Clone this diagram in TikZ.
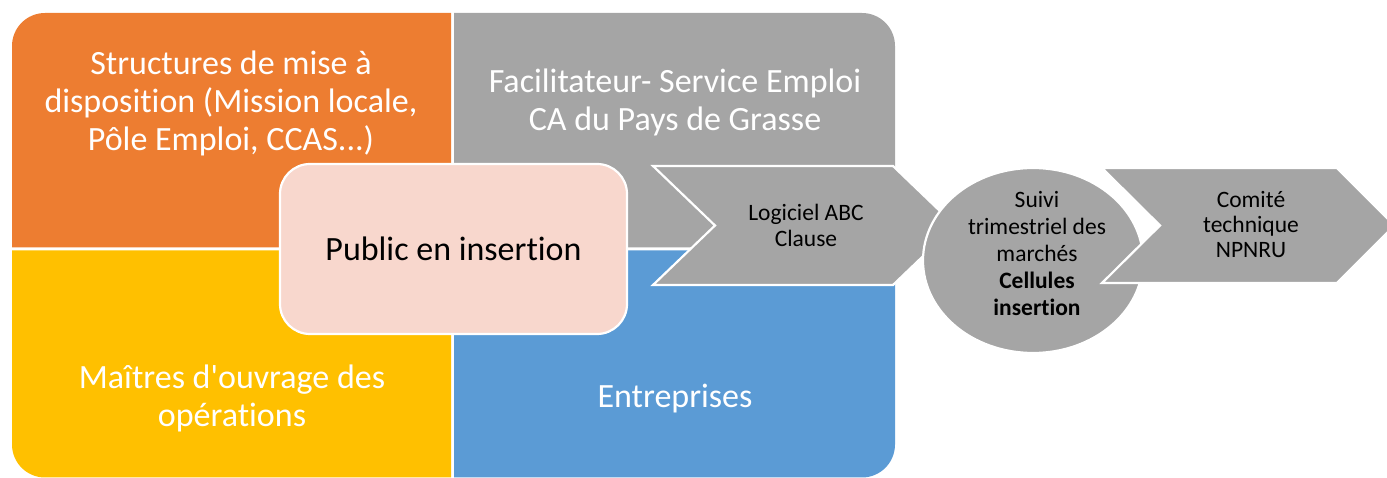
\documentclass[tikz,border=0pt]{standalone}
\usepackage{fontspec}
\setmainfont{Carlito}[Ligatures={TeXOff,CommonOff}]
\definecolor{tileorange}{HTML}{ED7D31}
\definecolor{tilegray}{HTML}{A5A5A5}
\definecolor{tileyellow}{HTML}{FFC000}
\definecolor{tileblue}{HTML}{5B9BD5}
\definecolor{corepink}{HTML}{F8D7CD}
\begin{document}
\begin{tikzpicture}[x=1pt,y=1pt,
  bigtext/.style={font=\fontsize{34}{38}\selectfont, text=white, align=center, inner sep=0pt},
  smalltext/.style={font=\fontsize{23.5}{26}\selectfont, text=black, align=center, inner sep=0pt},
  outlined/.style={fill=tilegray, draw=white, line width=2.2pt, line join=miter},
  corebox/.style={fill=corepink, draw=white, line width=2.2pt, rounded corners=30pt,
    minimum width=347pt, minimum height=170pt, inner sep=0pt,
    font=\fontsize{34}{38}\selectfont, text=black}
]
\useasboundingbox (0,0) rectangle (1387,478);
\clip (0,0) rectangle (1387,478);

% four tiles, each with one rounded outer corner
\fill[tileorange] (451,230.5) -- (12,230.5) -- (12,432)
  arc[start angle=180, end angle=90, radius=33pt] -- (451,465) -- cycle;
\fill[tilegray] (454,230.5) -- (454,465) -- (862,465)
  arc[start angle=90, end angle=0, radius=33pt] -- (895,230.5) -- cycle;
\fill[tileyellow] (451,227.5) -- (451,0.5) -- (45,0.5)
  arc[start angle=270, end angle=180, radius=33pt] -- (12,227.5) -- cycle;
\fill[tileblue] (454,227.5) -- (895,227.5) -- (895,33.5)
  arc[start angle=0, end angle=-90, radius=33pt] -- (454,0.5) -- cycle;

\node[bigtext] (structures) at (231,375)
  {Structures de mise à\\disposition (Mission locale,\\Pôle Emploi, CCAS...)};
\node[bigtext] (facilitateur) at (675,376)
  {Facilitateur- Service Emploi\\CA du Pays de Grasse};
\node[bigtext] (maitres) at (232,80)
  {Maîtres d'ouvrage des\\opérations};
\node[bigtext] (entreprises) at (675,79) {Entreprises};

% centre box
\node[corebox] (public) at (453.5,229) {Public en insertion};

% first chevron
\path[outlined] (653,312) -- (893,312) -- (955,252.5) -- (893,193)
  -- (653,193) -- (715,252.5) -- cycle;
\node[smalltext] (logiciel) at (806,253) {Logiciel ABC\\Clause};

% follow-up ellipse
\path[outlined] (1033,217.5) ellipse[x radius=110, y radius=92.5];
\node[smalltext, font=\fontsize{23.5}{27}\selectfont] (suivi) at (1037,224)
  {Suivi\\trimestriel des\\marchés\\\textbf{Cellules}\\\textbf{insertion}};

% second chevron
\path[outlined] (1102,310) -- (1337,310) -- (1394.5,252.5) -- (1337,195)
  -- (1102,195) -- (1160,252.5) -- cycle;
\node[smalltext, font=\fontsize{23.5}{25}\selectfont] (comite) at (1251,253.5)
  {Comité\\technique\\NPNRU};
\end{tikzpicture}
\end{document}
